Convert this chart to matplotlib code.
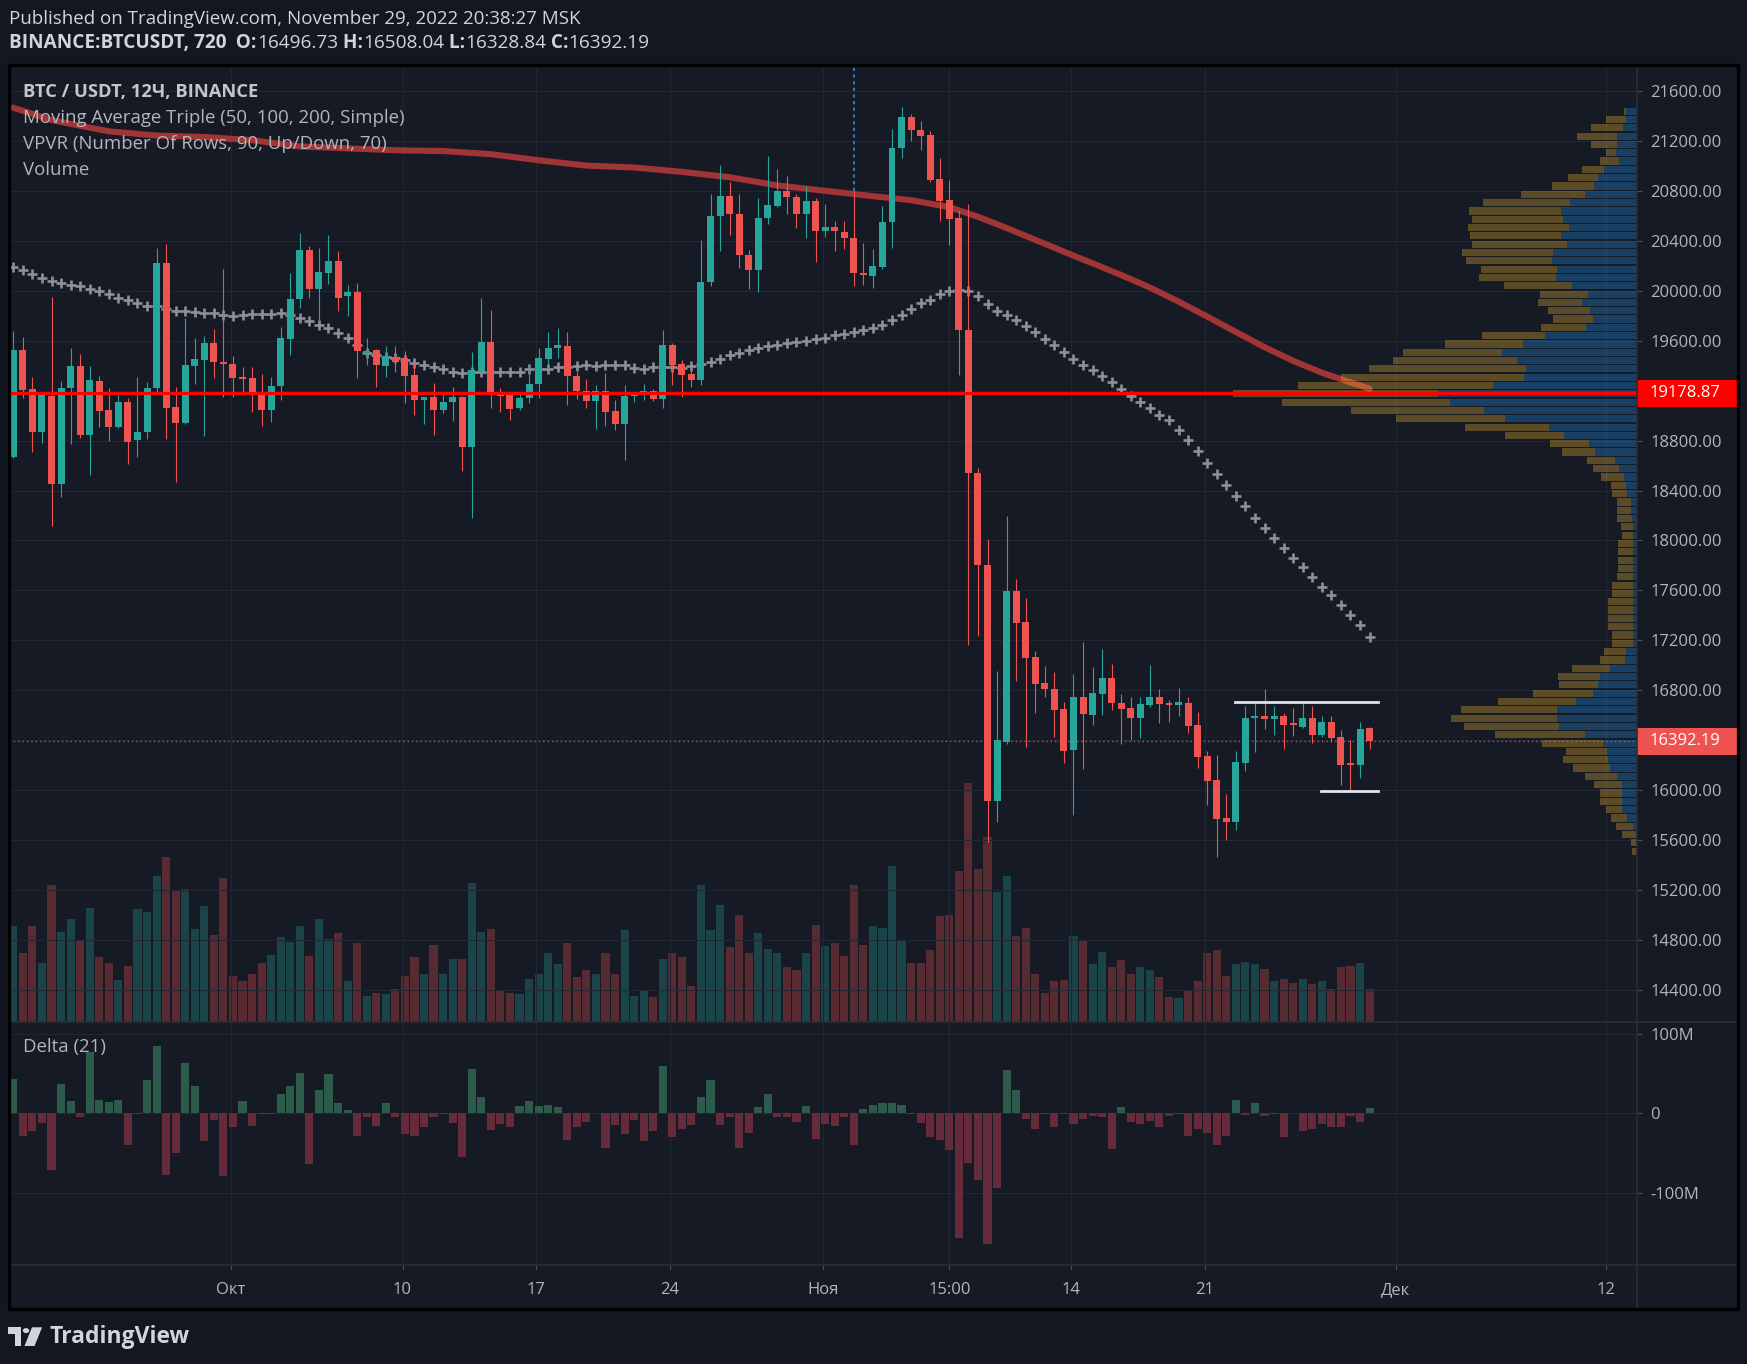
import numpy as np
import pandas as pd
import matplotlib
matplotlib.use("Agg")
import matplotlib.pyplot as plt
import matplotlib.transforms as mtransforms
from matplotlib.patches import Rectangle, Polygon, Circle
from matplotlib.lines import Line2D

plt.rcParams['font.family'] = ['Open Sans', 'DejaVu Sans']

W, H = 1747, 1364

# ---- BINANCE:BTCUSDT 12h candles ----
first_candle = pd.Timestamp('2022-09-19 15:00')

opens = [18673, 19526, 19217, 18871, 19162, 18450, 19223, 19396, 18846, 19279,
         19044, 18908, 19112, 18803, 18871, 19223, 20225, 19069, 18945, 19396,
         19446, 19582, 19434, 19415, 19310, 19304, 19186, 19050, 19236, 19619,
         19935, 20330, 20015, 20145, 20244, 19959, 19990, 19495, 19526, 19396,
         19471, 19465, 19329, 19124, 19149, 19044, 19112, 19149, 18747, 19347,
         19594, 19174, 19168, 19063, 19143, 19254, 19452, 19545, 19557, 19322,
         19199, 19118, 19199, 19038, 18933, 19155, 19174, 19199, 19137, 19570,
         19415, 19335, 19285, 20071, 20603, 20763, 20615, 20287, 20169, 20584,
         20683, 20800, 20757, 20621, 20720, 20479, 20516, 20472, 20423, 20145,
         20120, 20194, 20553, 21147, 21394, 21289, 21252, 20899, 20732, 20584,
         19687, 18543, 17807, 15914, 16384, 17597, 17349, 17065, 16860, 16811,
         16650, 16323, 16749, 16601, 16768, 16898, 16700, 16656, 16576, 16681,
         16749, 16700, 16681, 16700, 16520, 16273, 16081, 15778, 15741, 16217,
         16576, 16595, 16570, 16595, 16539, 16508, 16576, 16440, 16545, 16428,
         16217, 16199, 16496.73]
highs = [19681, 19632, 19310, 19192, 19953, 19279, 19545, 19495, 19396, 19316,
         19223, 19168, 19143, 19310, 19267, 20343, 20380, 19230, 19786, 19625,
         19638, 19693, 20176, 19477, 19390, 19390, 19335, 19310, 19712, 20145,
         20466, 20361, 20343, 20448, 20318, 20046, 20064, 19625, 19533, 19557,
         19557, 19520, 19421, 19149, 19260, 19192, 19230, 19162, 19514, 19947,
         19848, 19223, 19192, 19186, 19415, 19545, 19675, 19706, 19675, 19353,
         19298, 19248, 19341, 19124, 19248, 19186, 19254, 19217, 19687, 19582,
         19446, 19384, 20405, 20776, 21011, 20875, 20776, 20330, 20745, 21085,
         20980, 20924, 20776, 20844, 20745, 20695, 20559, 20559, 20800, 20386,
         20337, 20683, 21301, 21475, 21419, 21363, 21283, 21066, 20887, 20646,
         20695, 18580, 18011, 16953, 18197, 17689, 17541, 17114, 16997, 16947,
         16706, 16929, 17188, 16984, 17133, 17009, 16768, 16749, 16749, 17003,
         16811, 16725, 16817, 16749, 16626, 16310, 16279, 15964, 16316, 16675,
         16700, 16811, 16675, 16619, 16656, 16694, 16675, 16595, 16595, 16484,
         16397, 16545, 16508.04]
lows = [18660, 19143, 18710, 18778, 18116, 18345, 18772, 18821, 18524, 18908,
        18797, 18902, 18617, 18673, 18815, 19180, 18815, 18469, 18933, 19254,
        18834, 19304, 19149, 19149, 19180, 19032, 18914, 18951, 19124, 19483,
        19860, 19941, 19749, 20058, 19842, 19798, 19304, 19403, 19229, 19310,
        19347, 19100, 19007, 18933, 18846, 19019, 18957, 18555, 18178, 19341,
        19063, 19032, 18963, 19044, 19100, 19143, 19409, 19465, 19087, 19131,
        19063, 18895, 18920, 18889, 18642, 19112, 19124, 19118, 19063, 19248,
        19149, 19230, 19248, 20040, 20318, 20448, 20182, 20015, 19990, 20541,
        20670, 20621, 20504, 20423, 20231, 20429, 20318, 20337, 20040, 20046,
        20021, 20176, 20343, 21066, 21202, 21134, 20875, 20565, 20368, 19329,
        17164, 17238, 15586, 15747, 16372, 16873, 16347, 16619, 16743, 16428,
        16217, 15803, 16168, 16520, 16601, 16638, 16372, 16397, 16415, 16669,
        16539, 16545, 16595, 16453, 16174, 15883, 15463, 15599, 15679, 16149,
        16304, 16490, 16440, 16329, 16434, 16496, 16378, 16428, 16384, 16038,
        15989, 16094, 16328.84]
closes = [19526, 19205, 18871, 19168, 18450, 19223, 19396, 18846, 19285, 19038,
          18908, 19112, 18790, 18871, 19223, 20225, 19063, 18945, 19409, 19458,
          19582, 19427, 19415, 19304, 19298, 19180, 19050, 19242, 19625, 19935,
          20330, 20015, 20151, 20244, 19947, 19990, 19520, 19520, 19409, 19471,
          19434, 19322, 19124, 19149, 19044, 19112, 19149, 18747, 19365, 19594,
          19174, 19155, 19056, 19143, 19254, 19465, 19545, 19564, 19316, 19199,
          19118, 19199, 19032, 18933, 19162, 19174, 19199, 19137, 19570, 19409,
          19329, 19285, 20071, 20603, 20763, 20615, 20287, 20169, 20584, 20689,
          20800, 20757, 20621, 20720, 20479, 20516, 20479, 20423, 20145, 20126,
          20200, 20553, 21147, 21394, 21289, 21246, 20887, 20720, 20578, 19687,
          18543, 17807, 15914, 16397, 17597, 17337, 17059, 16848, 16811, 16644,
          16316, 16749, 16613, 16780, 16898, 16700, 16650, 16576, 16687, 16749,
          16687, 16681, 16706, 16514, 16267, 16075, 15766, 15741, 16223, 16576,
          16595, 16570, 16595, 16520, 16520, 16576, 16440, 16545, 16415, 16199,
          16199, 16490, 16392.19]

# volume, thousand BTC (relative heights)
volume = [124, 89, 124, 76, 176, 116, 132, 105, 147, 83,
          76, 54, 72, 146, 141, 188, 213, 169, 172, 120,
          150, 112, 186, 59, 52, 62, 76, 86, 109, 103,
          124, 85, 132, 107, 115, 52, 101, 33, 37, 36,
          42, 59, 83, 62, 99, 61, 81, 81, 179, 116,
          120, 40, 37, 35, 55, 61, 89, 74, 102, 58,
          67, 61, 88, 61, 118, 33, 41, 32, 81, 88,
          84, 46, 176, 118, 151, 96, 138, 88, 114, 94,
          89, 71, 67, 89, 125, 98, 101, 85, 177, 99,
          123, 121, 201, 105, 76, 76, 92, 137, 138, 195,
          309, 197, 239, 167, 188, 110, 121, 62, 37, 53,
          54, 111, 106, 74, 90, 71, 80, 62, 70, 67,
          58, 32, 31, 40, 52, 88, 92, 59, 75, 77,
          75, 68, 52, 55, 50, 55, 49, 52, 42, 71,
          72, 76, 42]

# Delta (21), millions
delta = [43, -28, -22, -12, -71, 37, 16, -4, 77, 17,
         14, 17, -39, -1, 42, 85, -77, -50, 63, 35,
         -34, -8, -78, -17, 16, -16, -1, -1, 24, 35,
         51, -64, 29, 50, 13, 4, -28, -4, -16, 13,
         -4, -26, -28, -17, -4, -1, -12, -54, 56, 21,
         -21, -13, -17, 9, 16, 9, 11, 8, -33, -17,
         -11, 1, -43, -14, -26, -8, -34, -22, 60, -29,
         -20, -14, 21, 42, -14, -5, -43, -25, 8, 24,
         -4, -4, -11, 9, -32, -13, -16, -5, -39, 5,
         11, 13, 13, 11, -1, -12, -30, -33, -46, -156,
         -62, -84, -164, -94, 54, 30, -7, -20, -1, -17,
         -1, -13, -7, -3, -4, -44, 8, -11, -13, -9,
         -17, -3, -1, -28, -20, -25, -39, -28, 17, -2,
         13, -3, -1, -29, 1, -22, -19, -13, -17, -17,
         -3, -11, 7]

# moving averages
ma100 = [20194, 20170, 20133, 20102, 20077, 20065, 20052, 20040, 20015, 19996,
         19972, 19947, 19929, 19904, 19879, 19879, 19854, 19842, 19836, 19830,
         19823, 19823, 19811, 19799, 19811, 19817, 19817, 19817, 19823, 19811,
         19780, 19762, 19731, 19700, 19662, 19625, 19564, 19502, 19489, 19471,
         19465, 19446, 19421, 19403, 19390, 19378, 19353, 19341, 19353, 19353,
         19353, 19353, 19353, 19353, 19372, 19372, 19378, 19390, 19390, 19397,
         19403, 19397, 19409, 19403, 19403, 19384, 19378, 19390, 19390, 19390,
         19384, 19397, 19415, 19427, 19452, 19483, 19502, 19526, 19545, 19557,
         19570, 19582, 19594, 19601, 19619, 19625, 19644, 19656, 19675, 19687,
         19706, 19731, 19768, 19811, 19854, 19904, 19929, 19978, 20003, 20009,
         19996, 19959, 19898, 19836, 19811, 19768, 19718, 19669, 19613, 19564,
         19508, 19458, 19403, 19366, 19316, 19267, 19217, 19162, 19112, 19063,
         19007, 18964, 18883, 18809, 18716, 18623, 18531, 18444, 18357, 18277,
         18184, 18104, 18023, 17943, 17863, 17788, 17708, 17628, 17560, 17479,
         17399, 17319, 17226]
ma200_at = [0, 4, 10, 15, 20, 25, 30, 40, 45, 50, 55, 60, 65, 70, 75, 80, 85,
            90, 94, 98, 101, 104, 107, 110, 113, 116, 119, 122, 125, 128, 131,
            134, 137, 140, 142]
ma200 = [21469, 21370, 21280, 21246, 21234, 21209, 21159, 21128, 21122, 21097,
         21048, 21005, 20990, 20955, 20912, 20846, 20803, 20760, 20728, 20672,
         20595, 20505, 20410, 20315, 20222, 20128, 20028, 19915, 19795, 19672,
         19550, 19440, 19345, 19268, 19216]

# VPVR, 90 rows listed from the top row down
vp_high, vp_low = 21475, 15476
vp_up = [11, 11, 14, 20, 20, 21, 18, 33, 39, 43,
         52, 67, 76, 74, 68, 76, 70, 84, 85, 80,
         81, 65, 49, 55, 47, 44, 51, 92, 114, 135,
         120, 111, 113, 144, 199, 187, 153, 132, 88, 73,
         48, 42, 22, 18, 13, 11, 10, 6, 6, 5,
         4, 4, 4, 4, 4, 4, 4, 4, 4, 4,
         4, 4, 4, 4, 4, 11, 12, 27, 37, 39,
         44, 61, 80, 80, 78, 52, 34, 30, 29, 27,
         20, 15, 15, 15, 15, 10, 4, 1, 0, 0]
vp_down = [2, 20, 32, 40, 26, 10, 19, 22, 30, 42,
           64, 87, 92, 91, 101, 91, 95, 91, 86, 76,
           77, 68, 48, 44, 42, 40, 45, 63, 78, 99,
           124, 157, 183, 195, 205, 168, 133, 109, 84, 59,
           39, 33, 28, 26, 23, 15, 15, 14, 14, 15,
           12, 11, 15, 15, 15, 15, 16, 21, 21, 25,
           25, 25, 25, 21, 21, 22, 25, 38, 42, 39,
           60, 78, 96, 106, 95, 90, 61, 41, 45, 37,
           32, 28, 22, 22, 16, 16, 17, 14, 6, 5]
poc_price = 19178.87
last_price = 16392.19

# drawn range lines (candle positions, prices)
range_top, range_top_from = 16705, 127.9
range_bot, range_bot_from = 15990, 136.9
range_to = 142.9
marker_candle = 88  # blue dotted vertical

price_ticks = list(range(14400, 21601, 400))
time_ticks = ['2022-10-01 00:00', '2022-10-10 00:00', '2022-10-17 00:00', '2022-10-24 00:00',
              '2022-11-01 00:00', '2022-11-07 15:00', '2022-11-14 00:00', '2022-11-21 00:00',
              '2022-12-01 00:00', '2022-12-12 00:00']
time_labels = ['Окт', '10', '17', '24', 'Ноя', '15:00', '14', '21', 'Дек', '12']
delta_ticks = [100, 0, -100]
delta_labels = ['100M', '0', '-100M']

# ---- colours ----
BG = '#131722'
PANE = '#161a25'
GRID = '#232733'
TXT = '#b2b5be'
UP, DN = '#26a69a', '#ef5350'

def fx(px):
    return px / W

def fy(py):
    return 1 - py / H

fig = plt.figure(figsize=(W / 100, H / 100), dpi=100, facecolor=BG)
fig.patches.append(Rectangle((fx(9), fy(1309)), fx(1738) - fx(9), fy(65) - fy(1309),
                             transform=fig.transFigure, facecolor=PANE,
                             edgecolor='none', zorder=-10))

PRICE_TOP, PRICE_BOT = 21803.6, 14144.2
X0, X1 = -0.45, 170.0

ax = fig.add_axes([fx(9), fy(1021.5), fx(1637) - fx(9), fy(66) - fy(1021.5)])
axv = ax.twinx()
axd = fig.add_axes([fx(9), fy(1265), fx(1637) - fx(9), fy(1021.5) - fy(1265)])

ax.set_zorder(2)
axv.set_zorder(1)
axd.set_zorder(2)
for a in (ax, axv, axd):
    a.patch.set_visible(False)
    for s in a.spines.values():
        s.set_visible(False)

idx = np.arange(len(opens))
o = np.array(opens)
c = np.array(closes)
up = c >= o
tick_pos = (pd.to_datetime(time_ticks, format='%Y-%m-%d %H:%M') - first_candle) / pd.Timedelta('12h')

# ---- volume (under the price pane) ----
axv.bar(idx, volume, width=0.85, color=np.where(up, UP, DN), alpha=0.3, linewidth=0)
axv.set_ylim(0, max(volume) * 4.0)
axv.set_yticks([])
axv.tick_params(length=0)

# ---- price pane ----
ax.set_xlim(X0, X1)
ax.set_ylim(PRICE_BOT, PRICE_TOP)
ax.set_xticks(tick_pos)
ax.tick_params(axis='x', length=0, labelbottom=False)
ax.set_yticks(price_ticks)
ax.set_yticklabels([f'{p:.2f}' for p in price_ticks])
ax.yaxis.tick_right()
ax.tick_params(axis='y', labelsize=12, labelcolor=TXT, color='#4a4e58',
               length=3.6, width=0.8, pad=6)
ax.grid(True, color=GRID, lw=0.8)
ax.set_axisbelow(True)

# VPVR rows from the right edge
trans_ax = mtransforms.blended_transform_factory(ax.transAxes, ax.transData)
row_h = (vp_high - vp_low) / len(vp_up)
vp_total = np.array(vp_up) + np.array(vp_down)
vp_scale = 0.248 / vp_total.max()
for r, (u, d) in enumerate(zip(vp_up, vp_down)):
    y = vp_high - (r + 1) * row_h + row_h * 0.07
    wu, wd = u * vp_scale, d * vp_scale
    ax.add_patch(Rectangle((1 - wu, y), wu, row_h * 0.86, transform=trans_ax,
                           facecolor='#2196f3', alpha=0.3, lw=0, zorder=2.5))
    ax.add_patch(Rectangle((1 - wu - wd, y), wd, row_h * 0.86, transform=trans_ax,
                           facecolor='#fbc02d', alpha=0.3, lw=0, zorder=2.5))

ax.plot(ma200_at, ma200, color='#a13535', lw=4.4, solid_capstyle='round',
        solid_joinstyle='round', zorder=2)
ax.plot(idx, ma100, ls='none', marker='+', ms=6.5, mew=1.9, color='#8c8f99', zorder=2.6)

# candles
ax.vlines(idx, lows, highs, colors=np.where(up, UP, DN), lw=0.8, zorder=3)
body = np.maximum(np.abs(c - o), 10)
ax.bar(idx, body, bottom=np.minimum(o, c), width=0.73,
       color=np.where(up, UP, DN), linewidth=0, zorder=3.1)

ax.axhline(poc_price, color='#ff0000', lw=2.2, zorder=4)
ax.axhline(last_price, color=DN, lw=0.9, ls=(0, (1, 2.5)), zorder=4)
ax.plot([marker_candle, marker_candle], [highs[marker_candle], PRICE_TOP],
        color='#3d85d6', lw=1.2, ls=(0, (2, 2)), zorder=4)
ax.plot([range_top_from, range_to], [range_top, range_top], color='#e0e3eb', lw=2, zorder=4)
ax.plot([range_bot_from, range_to], [range_bot, range_bot], color='#e0e3eb', lw=2, zorder=4)

# price labels on the axis
ppp = (PRICE_TOP - PRICE_BOT) / (1021.5 - 66)
for price, bg in [(poc_price, '#ff0000'), (last_price, DN)]:
    half = 13.5 * ppp
    ax.add_patch(Rectangle((1.0, price - half), 100 / 1628, 2 * half, transform=trans_ax,
                           facecolor=bg, lw=0, clip_on=False, zorder=20))
    ax.text(1.0 + 13 / 1628, price, f'{price:.2f}', transform=trans_ax, color='white',
            fontsize=12, va='center', ha='left', clip_on=False, zorder=21)

# ---- delta pane ----
axd.bar(idx, delta, width=0.85, color=np.where(np.array(delta) >= 0, '#2c5b4c', '#652b3a'),
        linewidth=0, zorder=2)
axd.set_xlim(X0, X1)
axd.set_ylim(-190.1, 115.4)
axd.set_yticks(delta_ticks)
axd.set_yticklabels(delta_labels)
axd.yaxis.tick_right()
axd.tick_params(axis='y', labelsize=12, labelcolor=TXT, color='#4a4e58',
                length=3.6, width=0.8, pad=6)
axd.set_xticks(tick_pos)
axd.set_xticklabels(time_labels)
axd.tick_params(axis='x', labelsize=12, labelcolor=TXT, color='#4a4e58',
                length=3.6, width=0.8, pad=9)
axd.grid(True, color=GRID, lw=0.8)
axd.set_axisbelow(True)

# pane separators and frame
for (xa, ya, xb, yb) in [(9, 1021.5, 1738, 1021.5), (9, 1265, 1738, 1265), (1637, 65, 1637, 1309)]:
    fig.add_artist(Line2D([fx(xa), fx(xb)], [fy(ya), fy(yb)], color='#2a2e39', lw=1.2,
                          transform=fig.transFigure, zorder=50))
fig.add_artist(Rectangle((fx(9), fy(1309)), fx(1738) - fx(9), fy(65) - fy(1309),
                         transform=fig.transFigure, fill=False, edgecolor='#000000',
                         lw=2.4, zorder=60))

# ---- texts ----
renderer = fig.canvas.get_renderer()

def runs(x, y, parts, size, color):
    for s, w in parts:
        t = fig.text(fx(x), fy(y), s, fontsize=size, fontweight=w, color=color,
                     ha='left', va='center')
        x += t.get_window_extent(renderer=renderer).width

fig.text(fx(9), fy(19), 'Published on TradingView.com, November 29, 2022 20:38:27 MSK',
         fontsize=13.5, color='#d1d4dc', ha='left', va='center')
runs(9, 43, [('BINANCE:BTCUSDT, 720', 'bold'), ('  O:', 'bold'), ('16496.73', 'normal'),
             (' H:', 'bold'), ('16508.04', 'normal'), (' L:', 'bold'), ('16328.84', 'normal'),
             (' C:', 'bold'), ('16392.19', 'normal')], 13.7, '#d1d4dc')

fig.text(fx(23), fy(92), 'BTC / USDT, 12Ч, BINANCE', fontsize=13.2, fontweight='bold',
         color='#c3c6ce', ha='left', va='center', zorder=70)
for y, s in [(118, 'Moving Average Triple (50, 100, 200, Simple)'),
             (144, 'VPVR (Number Of Rows, 90, Up/Down, 70)'),
             (170, 'Volume'), (1047, 'Delta (21)')]:
    fig.text(fx(23), fy(y), s, fontsize=13.4, color=TXT, ha='left', va='center', zorder=70)

# TradingView logo
LOGO = '#d1d4dc'
fig.patches.append(Polygon([(fx(8.4), fy(1327.3)), (fx(21), fy(1327.3)), (fx(21), fy(1346)),
                            (fx(14.5), fy(1346)), (fx(14.5), fy(1334)), (fx(8.4), fy(1334))],
                           closed=True, transform=fig.transFigure, facecolor=LOGO, lw=0))
fig.patches.append(Circle((fx(26), fy(1330.6)), 3.2 / W, transform=fig.transFigure,
                          facecolor=LOGO, lw=0))
fig.patches.append(Polygon([(fx(32), fy(1327.3)), (fx(42.1), fy(1327.3)), (fx(34.5), fy(1346)),
                            (fx(24.5), fy(1346))], closed=True, transform=fig.transFigure,
                           facecolor=LOGO, lw=0))
fig.text(fx(49), fy(1337), 'TradingView', fontsize=16.5, fontweight='bold', color=LOGO,
         ha='left', va='center')

fig.savefig('out.png', dpi=100, facecolor=BG)
